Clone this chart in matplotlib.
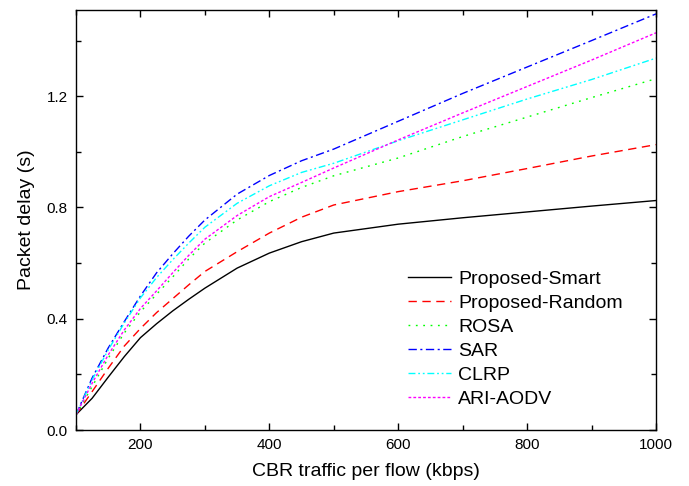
import numpy as np
import matplotlib
matplotlib.use("Agg")
from matplotlib import pyplot as plt
from matplotlib.ticker import MultipleLocator, FormatStrFormatter

# CBR traffic per flow (kbps)
traffic = [100, 125, 150, 175, 200, 225, 250, 275, 300, 350, 400, 450, 500,
           600, 700, 800, 900, 1000]

# packet delay (s)
smart = [0.055, 0.114, 0.19, 0.264, 0.332, 0.382, 0.428, 0.47, 0.51, 0.582,
         0.636, 0.677, 0.708, 0.74, 0.763, 0.784, 0.805, 0.825]
random_ = [0.055, 0.138, 0.222, 0.302, 0.365, 0.422, 0.472, 0.522, 0.57, 0.641,
           0.708, 0.765, 0.809, 0.857, 0.896, 0.94, 0.985, 1.026]
rosa = [0.055, 0.156, 0.258, 0.349, 0.425, 0.488, 0.55, 0.615, 0.672, 0.755,
        0.821, 0.872, 0.914, 0.978, 1.055, 1.125, 1.195, 1.263]
sar = [0.055, 0.187, 0.295, 0.39, 0.482, 0.565, 0.633, 0.697, 0.755, 0.848,
       0.915, 0.968, 1.01, 1.11, 1.21, 1.305, 1.40, 1.496]
clrp = [0.055, 0.18, 0.288, 0.385, 0.475, 0.548, 0.612, 0.672, 0.729, 0.815,
        0.878, 0.926, 0.959, 1.04, 1.115, 1.19, 1.26, 1.337]
ari_aodv = [0.055, 0.168, 0.27, 0.36, 0.437, 0.5, 0.565, 0.628, 0.686, 0.771,
            0.839, 0.89, 0.942, 1.043, 1.14, 1.235, 1.33, 1.428]

labels = ['Proposed-Smart', 'Proposed-Random', 'ROSA', 'SAR', 'CLRP', 'ARI-AODV']

plt.rcParams['font.family'] = ['Liberation Sans', 'DejaVu Sans']

fig = plt.figure(figsize=(6.89, 4.86), dpi=100)
ax = fig.add_axes([76 / 689, 56 / 486, 580 / 689, 420 / 486])

lw = 1.0
ax.plot(traffic, smart, color='black', lw=lw, label=labels[0])
ax.plot(traffic, random_, color='#ff0000', lw=lw, ls=(0, (6, 4)), label=labels[1])
ax.plot(traffic, rosa, color='#00ff00', lw=lw, ls=(0, (1.3, 4)), label=labels[2])
ax.plot(traffic, sar, color='#0000ff', lw=lw, ls=(0, (6, 2.5, 1.5, 2.5)), label=labels[3])
ax.plot(traffic, clrp, color='#00ffff', lw=lw, ls=(0, (5, 2, 1.3, 2, 1.3, 2)), label=labels[4])
ax.plot(traffic, ari_aodv, color='#ff00ff', lw=lw, ls=(0, (2, 1.5)), label=labels[5])

ax.set_xlim(100, 1000)
ax.set_ylim(0, 1.51)
ax.xaxis.set_major_locator(MultipleLocator(200))
ax.xaxis.set_minor_locator(MultipleLocator(100))
ax.yaxis.set_major_locator(MultipleLocator(0.4))
ax.yaxis.set_minor_locator(MultipleLocator(0.2))
ax.yaxis.set_major_formatter(FormatStrFormatter('%.1f'))
ax.tick_params(which='both', direction='in', top=True, right=True, width=1.0)
ax.tick_params(which='major', length=5, labelsize=11, pad=6)
ax.tick_params(which='minor', length=3.8)
for s in ax.spines.values():
    s.set_linewidth(1.0)

ax.set_xlabel('CBR traffic per flow (kbps)', fontsize=14, labelpad=8)
ax.set_ylabel('Packet delay (s)', fontsize=14, labelpad=8)

ax.legend(loc='upper left', bbox_to_anchor=(0.572, 0.38), frameon=False,
          fontsize=14, handlelength=2.2, handletextpad=0.4, labelspacing=0.33,
          borderpad=0, borderaxespad=0)

fig.savefig('out.png', dpi=100)
